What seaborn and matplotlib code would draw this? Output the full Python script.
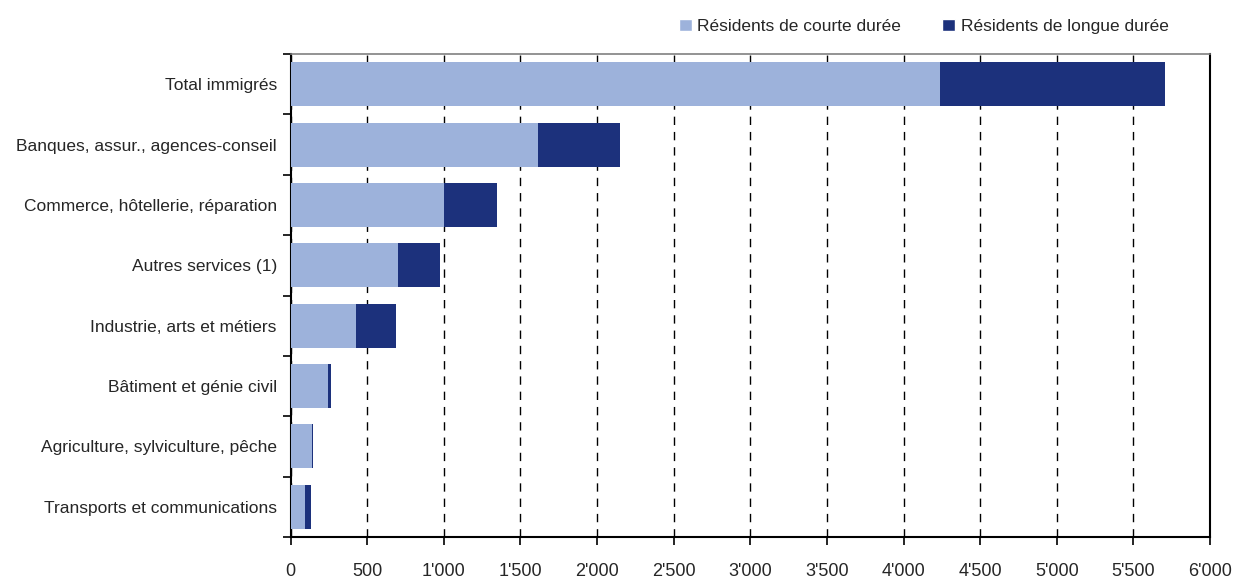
import numpy as np
import pandas as pd
import matplotlib
matplotlib.use("Agg")
import matplotlib.pyplot as plt
import seaborn as sns
from matplotlib.patches import Patch
from matplotlib.ticker import FuncFormatter, MultipleLocator

# donnees
categories = [
    "Total immigrés",
    "Banques, assur., agences-conseil",
    "Commerce, hôtellerie, réparation",
    "Autres services (1)",
    "Industrie, arts et métiers",
    "Bâtiment et génie civil",
    "Agriculture, sylviculture, pêche",
    "Transports et communications",
]
courte_duree = [4235, 1613, 1000, 700, 426, 243, 139, 93]
longue_duree = [1473, 534, 346, 273, 261, 20, 9, 39]

serie_courte = "Résidents de courte durée"
serie_longue = "Résidents de longue durée"

df = pd.DataFrame({"Branche": categories,
                   "Courte": courte_duree,
                   "Longue": longue_duree})
df["Total"] = df["Courte"] + df["Longue"]

clair = "#9DB2DB"
fonce = "#1C317C"

sns.set_style("white")
plt.rcParams["font.family"] = ["Liberation Sans", "DejaVu Sans"]

fig = plt.figure(figsize=(12.4, 5.79), dpi=100)
ax = fig.add_axes([0.2344, 0.0725, 0.9758 - 0.2344, 0.9067 - 0.0725])

# barres empilees : total en fonce, puis la part courte duree par-dessus
sns.barplot(data=df, x="Total", y="Branche", color=fonce, width=0.73,
            saturation=1, linewidth=0, ax=ax, zorder=3)
sns.barplot(data=df, x="Courte", y="Branche", color=clair, width=0.73,
            saturation=1, linewidth=0, ax=ax, zorder=3)

ax.set_xlim(0, 6000)
ax.set_ylim(len(categories) - 0.5, -0.5)
ax.xaxis.set_major_locator(MultipleLocator(500))
ax.xaxis.set_major_formatter(FuncFormatter(lambda v, p: f"{int(v):,}".replace(",", "'")))
ax.grid(axis="x", color="black", linestyle=(0, (6, 5)), linewidth=1, zorder=0)
ax.set_axisbelow(True)

# petits traits entre les categories sur l'axe y
ax.set_yticks(np.arange(-0.5, len(categories) + 0.5, 1), minor=True)
ax.tick_params(axis="y", which="major", length=0, pad=10, labelsize=12.5)
ax.tick_params(axis="y", which="minor", length=6, width=1.2, color="black",
               direction="out", left=True)
ax.tick_params(axis="x", which="major", length=6, width=1.2, color="black",
               direction="out", bottom=True, labelsize=13, pad=13)
ax.set_xlabel("")
ax.set_ylabel("")

for side in ["left", "bottom", "right"]:
    ax.spines[side].set_color("black")
    ax.spines[side].set_linewidth(1.5)
ax.spines["top"].set_color("#808080")
ax.spines["top"].set_linewidth(1.2)

handles = [Patch(facecolor=clair, label=serie_courte),
           Patch(facecolor=fonce, label=serie_longue)]
fig.legend(handles=handles, loc="upper right", bbox_to_anchor=(0.955, 0.995),
           ncol=2, frameon=False, fontsize=12.5, handlelength=0.75, handleheight=0.75,
           handletextpad=0.3, columnspacing=2.4)

fig.savefig("out.png", dpi=100)
plt.close(fig)
